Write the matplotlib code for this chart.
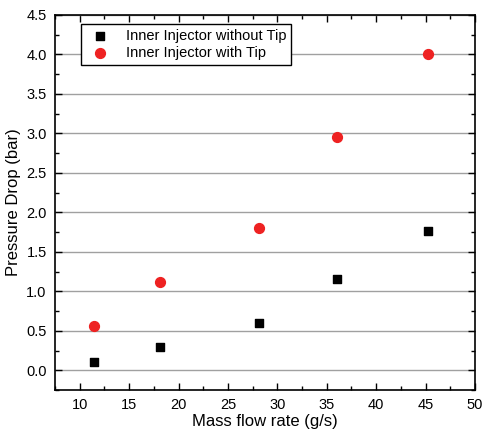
import numpy as np
import matplotlib.pyplot as plt
from matplotlib.ticker import MultipleLocator

plt.rcParams['font.family'] = ['Liberation Sans', 'DejaVu Sans']

# data
mass_flow = [11.4, 18.1, 28.1, 36.0, 45.2]
dp_without_tip = [0.11, 0.30, 0.60, 1.16, 1.77]
dp_with_tip = [0.56, 1.12, 1.80, 2.95, 4.00]

fig = plt.figure(figsize=(4.83, 4.32), dpi=100)
ax = fig.add_axes([55 / 483, 1 - 390 / 432, 420 / 483, 375 / 432])

ax.yaxis.grid(True, color='#a0a0a0', linewidth=1)
ax.set_axisbelow(True)

ax.scatter(mass_flow, dp_without_tip, marker='s', s=40, color='black',
           label='Inner Injector without Tip', zorder=3)
ax.scatter(mass_flow, dp_with_tip, marker='o', s=50, color='#ee2222',
           label='Inner Injector with Tip', zorder=3)

ax.set_xlim(7.5, 50)
ax.set_ylim(-0.25, 4.5)
ax.xaxis.set_minor_locator(MultipleLocator(2.5))
ax.yaxis.set_minor_locator(MultipleLocator(0.25))
ax.set_xticks(np.arange(10, 51, 5))
ax.set_yticks(np.arange(0, 4.51, 0.5))
ax.yaxis.set_major_formatter(plt.FormatStrFormatter('%.1f'))

ax.tick_params(which='both', direction='in', top=True, right=True,
               labeltop=False, labelright=False, labelsize=10.5)
ax.tick_params(which='major', length=5, width=1, pad=6)
ax.tick_params(which='minor', length=3, width=1)
for s in ax.spines.values():
    s.set_linewidth(1.2)

ax.set_xlabel('Mass flow rate (g/s)', fontsize=12, labelpad=1)
ax.set_ylabel('Pressure Drop (bar)', fontsize=12, labelpad=4)

leg = ax.legend(loc='upper left', bbox_to_anchor=(0.045, 0.995), fontsize=10.5,
                fancybox=False, edgecolor='black', framealpha=1,
                handletextpad=0.8, borderpad=0.3, labelspacing=0.25)
leg.get_frame().set_linewidth(1)

plt.savefig('out.png', dpi=100)
